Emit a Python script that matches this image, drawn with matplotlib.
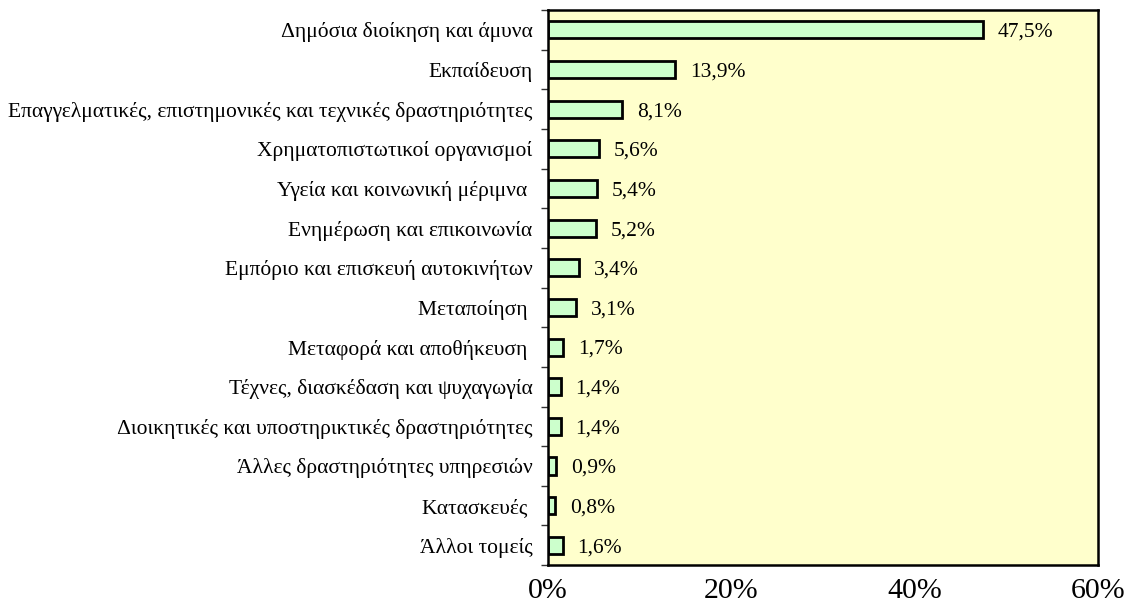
import matplotlib.pyplot as plt

categories = [
    "Δημόσια διοίκηση και άμυνα",
    "Εκπαίδευση",
    "Επαγγελματικές, επιστημονικές και τεχνικές δραστηριότητες",
    "Χρηματοπιστωτικοί οργανισμοί",
    "Υγεία και κοινωνική μέριμνα ",
    "Ενημέρωση και επικοινωνία",
    "Εμπόριο και επισκευή αυτοκινήτων",
    "Μεταποίηση ",
    "Μεταφορά και αποθήκευση ",
    "Τέχνες, διασκέδαση και ψυχαγωγία",
    "Διοικητικές και υποστηρικτικές δραστηριότητες",
    "Άλλες δραστηριότητες υπηρεσιών",
    "Κατασκευές ",
    "Άλλοι τομείς",
]
values = [47.5, 13.9, 8.1, 5.6, 5.4, 5.2, 3.4, 3.1, 1.7, 1.4, 1.4, 0.9, 0.8, 1.6]
xticks = [0, 20, 40, 60]

plt.rcParams["font.family"] = ["Liberation Serif", "DejaVu Serif"]

fig = plt.figure(figsize=(11.25, 6.07), dpi=100)
ax = fig.add_axes([0.487, 0.069, 0.489, 0.9145])
ax.set_facecolor("#FFFFCC")

ypos = list(range(len(categories)))
ax.barh(ypos, values, height=0.43, color="#CCFFCC", edgecolor="black", linewidth=2.0)

for y, v in zip(ypos, values):
    ax.text(v + 1.6, y, f"{v:.1f}%".replace(".", ","), va="center_baseline", ha="left", fontsize=15.5)

ax.set_xlim(0, 60)
ax.set_ylim(len(categories) - 0.5, -0.5)
ax.set_yticks(ypos)
ax.set_yticklabels(categories, fontsize=15.5, va="center_baseline")
ax.set_yticks([i - 0.5 for i in range(len(categories) + 1)], minor=True)
ax.tick_params(axis="y", which="major", length=0, pad=11)
ax.tick_params(axis="y", which="minor", length=5, width=1.0, color="#333333")
ax.set_xticks(xticks)
ax.set_xticklabels([f"{t}%" for t in xticks], fontsize=21.5)
ax.tick_params(axis="x", length=0, pad=9)

for side in ["top", "right", "bottom", "left"]:
    ax.spines[side].set_linewidth(1.8)

fig.savefig("out.png", dpi=100)
